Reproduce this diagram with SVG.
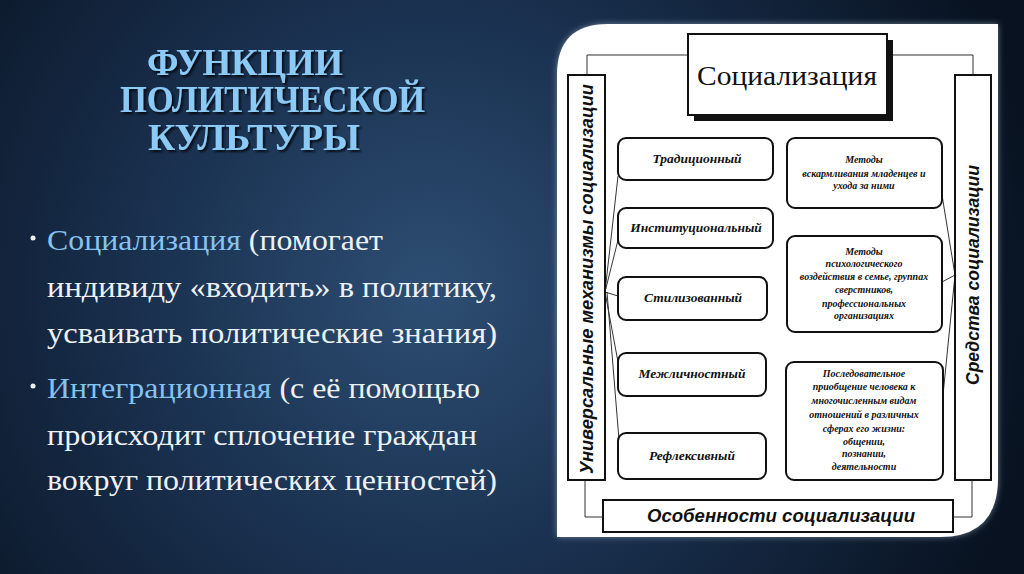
<svg xmlns="http://www.w3.org/2000/svg" width="1024" height="574" viewBox="0 0 1024 574">
<defs>
<radialGradient id="bg" cx="430" cy="290" r="620" gradientUnits="userSpaceOnUse">
<stop offset="0" stop-color="#2d4e73"/>
<stop offset="0.45" stop-color="#1a3150"/>
<stop offset="1" stop-color="#081220"/>
</radialGradient>
<filter id="tsh" x="-10%" y="-10%" width="130%" height="140%">
<feDropShadow dx="2" dy="2" stdDeviation="1.2" flood-color="#000" flood-opacity="0.8"/>
</filter>
<filter id="psh" x="-5%" y="-5%" width="110%" height="110%">
<feDropShadow dx="0" dy="0" stdDeviation="3" flood-color="#9fb4c8" flood-opacity="0.6"/>
</filter>
</defs>
<style>
.title{font-family:"Liberation Serif",serif;font-weight:bold;font-size:37px;fill:#8ccaf6}
.body{font-family:"Liberation Serif",serif;font-size:29px;fill:#eef1f4}
.hl{fill:#86c2ee}
.box{fill:#fff;stroke:#111;stroke-width:2}
.bar{fill:#fff;stroke:#111;stroke-width:2}
.head{font-family:"Liberation Serif",serif;font-size:28px;fill:#111;text-anchor:middle}
.lbl{font-family:"Liberation Serif",serif;font-weight:bold;font-style:italic;font-size:13.5px;fill:#111;text-anchor:middle}
.sm{font-family:"Liberation Serif",serif;font-weight:bold;font-style:italic;font-size:10px;fill:#111;text-anchor:middle}
.sans{font-family:"Liberation Sans",sans-serif;font-weight:bold;font-style:italic;font-size:18px;fill:#111;text-anchor:middle}
.con{fill:none;stroke:#333;stroke-width:1}
</style>
<rect width="1024" height="574" fill="url(#bg)"/>

<g id="title" filter="url(#tsh)">
<text class="title" x="147" y="75" textLength="196" lengthAdjust="spacingAndGlyphs">ФУНКЦИИ</text>
<text class="title" x="120" y="112" textLength="305" lengthAdjust="spacingAndGlyphs">ПОЛИТИЧЕСКОЙ</text>
<text class="title" x="148" y="150" textLength="212" lengthAdjust="spacingAndGlyphs">КУЛЬТУРЫ</text>
</g>

<g id="bullets">
<circle cx="33" cy="238" r="2.5" fill="#eef1f4"/>
<text class="body" x="47" y="250" textLength="336" lengthAdjust="spacingAndGlyphs"><tspan class="hl">Социализация</tspan> (помогает</text>
<text class="body" x="47" y="297" textLength="450" lengthAdjust="spacingAndGlyphs">индивиду «входить» в политику,</text>
<text class="body" x="47" y="343" textLength="450" lengthAdjust="spacingAndGlyphs">усваивать политические знания)</text>
<circle cx="33" cy="386" r="2.5" fill="#eef1f4"/>
<text class="body" x="47" y="398" textLength="433" lengthAdjust="spacingAndGlyphs"><tspan class="hl">Интеграционная</tspan> (с её помощью</text>
<text class="body" x="47" y="445" textLength="430" lengthAdjust="spacingAndGlyphs">происходит сплочение граждан</text>
<text class="body" x="47" y="490" textLength="450" lengthAdjust="spacingAndGlyphs">вокруг политических ценностей)</text>
</g>

<g id="panel">
<path d="M608,24 H998 V478 Q998,537 940,537 H557 V75 Q557,24 608,24 Z" fill="#fff" filter="url(#psh)"/>
</g>

<g id="connectors">
<polyline class="con" points="688,55 587,55 587,75"/>
<polyline class="con" points="887,55 973,55 973,75"/>
<polyline class="con" points="585,480 585,517 603,517"/>
<polyline class="con" points="972,480 972,517 953,517"/>
<line class="con" x1="605" y1="292" x2="618" y2="176"/>
<line class="con" x1="605" y1="292" x2="618" y2="240"/>
<line class="con" x1="605" y1="292" x2="618" y2="296"/>
<line class="con" x1="605" y1="292" x2="618" y2="362"/>
<line class="con" x1="607" y1="292" x2="619" y2="440"/>
<line class="con" x1="955" y1="275" x2="942" y2="195"/>
<line class="con" x1="955" y1="275" x2="942" y2="282"/>
<line class="con" x1="955" y1="275" x2="943" y2="395"/>
</g>

<g id="socialization">
<rect x="694" y="40" width="199" height="81" fill="#111"/>
<rect x="688" y="34" width="199" height="81" fill="#fff" stroke="#111" stroke-width="2"/>
<text class="head" x="787" y="85" textLength="180" lengthAdjust="spacingAndGlyphs">Социализация</text>
</g>

<g id="universal">
<rect class="bar" x="568" y="75" width="37" height="405"/>
<text class="sans" transform="translate(593,279) rotate(-90)" textLength="390" lengthAdjust="spacingAndGlyphs">Универсальные механизмы социализации</text>
</g>

<g id="means">
<rect class="bar" x="955" y="75" width="36" height="405"/>
<text class="sans" transform="translate(979,275) rotate(-90)" textLength="220" lengthAdjust="spacingAndGlyphs">Средства социализации</text>
</g>

<g id="features">
<rect class="bar" x="603" y="500" width="350" height="32"/>
<text class="sans" x="781" y="522" textLength="268" lengthAdjust="spacingAndGlyphs">Особенности социализации</text>
</g>

<g id="traditional">
<rect class="box" x="618" y="138" width="155" height="42" rx="8"/>
<text class="lbl" x="697" y="163">Традиционный</text>
</g>
<g id="institutional">
<rect class="box" x="618" y="208" width="155" height="40" rx="8"/>
<text class="lbl" x="696" y="232">Институциональный</text>
</g>
<g id="stylized">
<rect class="box" x="618" y="277" width="149" height="43" rx="8"/>
<text class="lbl" x="693" y="302">Стилизованный</text>
</g>
<g id="interpersonal">
<rect class="box" x="618" y="353" width="148" height="43" rx="8"/>
<text class="lbl" x="692" y="378">Межличностный</text>
</g>
<g id="reflexive">
<rect class="box" x="618" y="433" width="148" height="46" rx="8"/>
<text class="lbl" x="692" y="460">Рефлексивный</text>
</g>

<g id="methods-feeding">
<rect class="box" x="787" y="138" width="155" height="70" rx="8"/>
<text class="sm" x="864" y="163">Методы</text>
<text class="sm" x="864" y="177">вскармливания младенцев и</text>
<text class="sm" x="864" y="189">ухода за ними</text>
</g>
<g id="methods-psych">
<rect class="box" x="787" y="236" width="155" height="96" rx="8"/>
<text class="sm" x="864" y="255">Методы</text>
<text class="sm" x="864" y="267">психологического</text>
<text class="sm" x="864" y="280">воздействия в семье, группах</text>
<text class="sm" x="864" y="293">сверстников,</text>
<text class="sm" x="864" y="307">профессиональных</text>
<text class="sm" x="864" y="319">организациях</text>
</g>
<g id="sequential">
<rect class="box" x="786" y="362" width="157" height="118" rx="8"/>
<text class="sm" x="864" y="377">Последовательное</text>
<text class="sm" x="864" y="390">приобщение человека к</text>
<text class="sm" x="864" y="404">многочисленным видам</text>
<text class="sm" x="864" y="418">отношений в различных</text>
<text class="sm" x="864" y="432">сферах его жизни:</text>
<text class="sm" x="864" y="445">общении,</text>
<text class="sm" x="864" y="457">познании,</text>
<text class="sm" x="864" y="470">деятельности</text>
</g>
</svg>
